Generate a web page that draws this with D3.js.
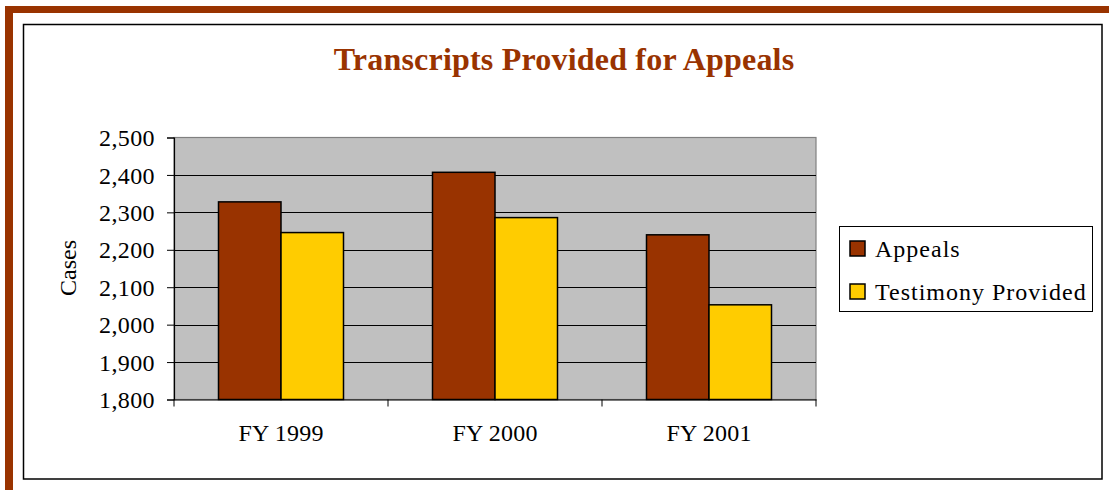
<!DOCTYPE html>
<html><head><meta charset="utf-8">
<script src="https://cdn.jsdelivr.net/npm/d3@7"></script>
<style>body{margin:0;background:#fff}svg{display:block}text{font-family:"Liberation Serif","Times New Roman",serif}</style>
</head><body><svg id="c" width="1109" height="490"></svg>
<script>
const categories = ["FY 1999", "FY 2000", "FY 2001"];
const seriesNames = ["Appeals", "Testimony Provided"];
const appeals = [2328, 2407, 2240];
const testimony = [2246, 2286, 2053];
const yTicks = [1800, 1900, 2000, 2100, 2200, 2300, 2400, 2500];
const colors = ["#993300", "#FFCC00"];
const title = "Transcripts Provided for Appeals";
const yLabel = "Cases";

const svg = d3.select("#c");
// decorative brown frame
svg.append("rect").attr("x",5).attr("y",6).attr("width",1104).attr("height",7).attr("fill","#993300");
svg.append("rect").attr("x",5).attr("y",6).attr("width",8).attr("height",484).attr("fill","#993300");
// chart box
svg.append("rect").attr("x",23.5).attr("y",24.5).attr("width",1078.5).attr("height",454.5)
  .attr("fill","#fff").attr("stroke","#000").attr("stroke-width",1.5);

svg.append("text").attr("x",564).attr("y",70).attr("text-anchor","middle")
  .attr("font-size",32).attr("font-weight","bold").attr("fill","#993300").attr("letter-spacing",0.2).text(title);

const L=174, R=816, T=137.5, B=399.5;
const y = d3.scaleLinear().domain([1800,2500]).range([B,T]);
const x0 = d3.scaleBand().domain(categories).range([L,R]).padding(0);
const groupW = 125;
const x1 = d3.scaleBand().domain(seriesNames).range([0,groupW]).padding(0);

const g = svg.append("g");
g.append("rect").attr("x",L).attr("y",T).attr("width",R-L).attr("height",B-T)
  .attr("fill","#C0C0C0").attr("stroke","#808080").attr("stroke-width",1.2);
// gridlines
g.selectAll("line.grid").data(yTicks.slice(1,-1)).join("line")
  .attr("x1",L).attr("x2",R).attr("y1",d=>Math.round(y(d))+0.5).attr("y2",d=>Math.round(y(d))+0.5)
  .attr("stroke","#000").attr("stroke-width",1);

const data = categories.map((c,i)=>({cat:c, vals:[appeals[i], testimony[i]]}));
const grp = g.selectAll("g.cat").data(data).join("g")
  .attr("transform",d=>`translate(${x0(d.cat)+x0.bandwidth()/2-groupW/2},0)`);
grp.selectAll("rect").data(d=>d.vals.map((v,j)=>({name:seriesNames[j], v, j}))).join("rect")
  .attr("x",d=>x1(d.name)).attr("width",x1.bandwidth())
  .attr("y",d=>y(d.v)).attr("height",d=>B-y(d.v))
  .attr("fill",d=>colors[d.j]).attr("stroke","#000").attr("stroke-width",1.5);

// y axis
const ya = d3.axisLeft(y).tickValues(yTicks).tickSize(7).tickFormat(d3.format(","));
const yg = svg.append("g").attr("transform",`translate(${L},0)`).call(ya);
yg.select(".domain").attr("stroke","#000").attr("stroke-width",1.2);
yg.selectAll(".tick line").attr("stroke","#000");
yg.selectAll("text").attr("font-size",24).attr("fill","#000").attr("x",-19).attr("dy","0.34em")
  .attr("letter-spacing",0.4).style("font-family",'"Liberation Serif",serif');

// x axis
const xa = d3.axisBottom(x0).tickSize(0).tickPadding(24);
const xg = svg.append("g").attr("transform",`translate(0,${B})`).call(xa);
xg.select(".domain").attr("stroke","#000").attr("stroke-width",1.2);
xg.selectAll("text").attr("font-size",24).attr("fill","#000").attr("letter-spacing",0.2).style("font-family",'"Liberation Serif",serif');
xg.selectAll("line.sep").data([L, ...categories.map(c=>x0(c)+x0.bandwidth())]).join("line")
  .attr("class","sep").attr("x1",d=>d).attr("x2",d=>d).attr("y1",0).attr("y2",7).attr("stroke","#000");

svg.append("text").attr("transform","translate(76,268) rotate(-90)").attr("text-anchor","middle")
  .attr("font-size",24).text(yLabel);

// legend
const lg = svg.append("g");
lg.append("rect").attr("x",839.5).attr("y",226.5).attr("width",253).attr("height",85)
  .attr("fill","#fff").attr("stroke","#000").attr("stroke-width",1);
const items = lg.selectAll("g.it").data(seriesNames).join("g")
  .attr("transform",(d,i)=>`translate(850,${241+i*43})`);
items.append("rect").attr("width",15).attr("height",15).attr("fill",(d,i)=>colors[i]).attr("stroke","#000").attr("stroke-width",1.5);
items.append("text").attr("x",25).attr("y",16).attr("font-size",24).attr("letter-spacing",1).text(d=>d);
</script></body></html>
